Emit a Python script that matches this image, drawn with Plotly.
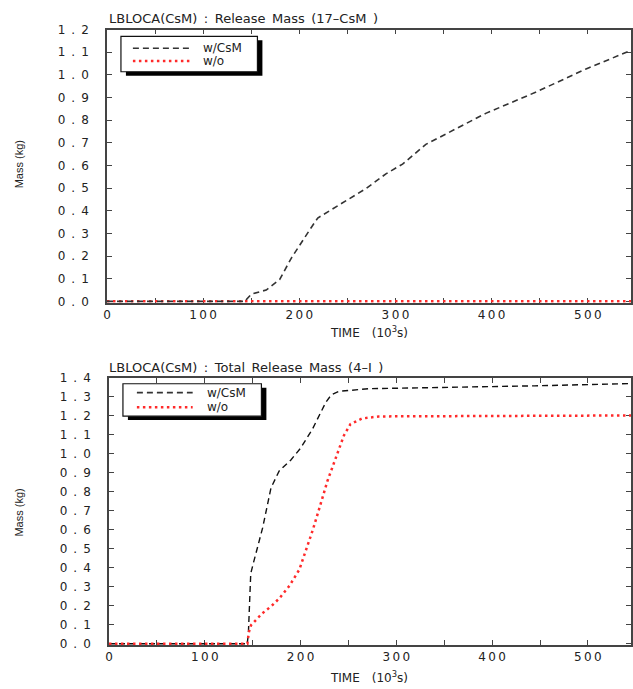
import plotly.graph_objects as go

# ---------------- data ----------------
# Top panel: Release Mass (17-CsM)
t_top_csm = [0, 144, 144.8, 150.1, 165.6, 179.5, 191.6, 202, 212.3, 219.2, 227.8,
             248.6, 269.4, 290.1, 307.4, 331.6, 393.9, 445.7, 497.6, 545]
m_top_csm = [0, 0, 0.007, 0.032, 0.05, 0.096, 0.19, 0.26, 0.325, 0.368, 0.39,
             0.447, 0.498, 0.563, 0.606, 0.693, 0.83, 0.923, 1.025, 1.108]
t_top_wo = [0, 545]
m_top_wo = [0.0, 0.0]

# Bottom panel: Total Release Mass (4-I)
t_bot_csm = [0, 144.3, 145.5, 148, 150.5, 160.4, 169.1, 177.7, 189.9, 200, 212.4,
             219.3, 226.2, 232, 240.1, 271.3, 333.7, 444.5, 545]
m_bot_csm = [0, 0, 0.05, 0.37, 0.42, 0.61, 0.82, 0.91, 0.968, 1.03, 1.13,
             1.2, 1.27, 1.31, 1.329, 1.343, 1.347, 1.358, 1.37]
t_bot_wo = [0, 144.5, 146, 148.3, 160, 170, 178, 188.4, 198.8, 205, 212.7, 220,
            228, 236.6, 245.3, 252.2, 264.2, 281.7, 400, 545]
m_bot_wo = [0, 0, 0.06, 0.098, 0.16, 0.2, 0.24, 0.305, 0.391, 0.48, 0.598, 0.72,
            0.856, 0.976, 1.097, 1.157, 1.186, 1.197, 1.2, 1.202]

x_tickvals = [0, 100, 200, 300, 400, 500]
x_ticktext = ["0", "1\u20090\u20090", "2\u20090\u20090", "3\u20090\u20090",
              "4\u20090\u20090", "5\u20090\u20090"]
x_minor_vals = [50, 150, 250, 350, 450]
y_top_vals = [0.0, 0.1, 0.2, 0.3, 0.4, 0.5, 0.6, 0.7, 0.8, 0.9, 1.0, 1.1, 1.2]
y_bot_vals = [0.0, 0.1, 0.2, 0.3, 0.4, 0.5, 0.6, 0.7, 0.8, 0.9, 1.0, 1.1, 1.2, 1.3, 1.4]

series_names = ["w/CsM", "w/o"]
titles = ["LBLOCA(CsM)\u2002:\u2002Release\u2002Mass\u2002(17\u2013CsM\u2002)",
          "LBLOCA(CsM)\u2002:\u2002Total\u2002Release\u2002Mass\u2002(4\u2013I\u2002)"]

def ylab(v):
    s = f"{v:.1f}"
    return s[0] + "\u2002.\u2002" + s[2]

W, H = 633, 689
L = 107
FONT = "DejaVu Sans"
TXT = "#222222"
AX = "#444444"

def px_x(p):
    return (p - L) / (W - L)

def px_y(p):
    return 1 - p / H

fig = go.Figure()

BLACK = "#333333"
RED = "#ff2a2a"
DASH_B = "6px,4px"
DOT_R = "2.5px,3.5px"

fig.add_trace(go.Scatter(x=t_top_wo, y=m_top_wo, mode="lines", xaxis="x", yaxis="y",
                         line=dict(color=RED, width=2.5, dash=DOT_R), showlegend=False))
fig.add_trace(go.Scatter(x=t_top_csm, y=m_top_csm, mode="lines", xaxis="x", yaxis="y",
                         line=dict(color=BLACK, width=1.6, dash=DASH_B), showlegend=False))
fig.add_trace(go.Scatter(x=t_bot_csm, y=m_bot_csm, mode="lines", xaxis="x2", yaxis="y2",
                         line=dict(color="#111111", width=1.4, dash=DASH_B), showlegend=False))
fig.add_trace(go.Scatter(x=t_bot_wo, y=m_bot_wo, mode="lines", xaxis="x2", yaxis="y2",
                         line=dict(color=RED, width=2.5, dash=DOT_R), showlegend=False))

# domains (pixel based)
top_y0_px, top_y1_px = 23, 300
bot_y0_px, bot_y1_px = 378, 649
top_off, bot_off = 0.006, 0.007
top_ppu = (top_y1_px - top_y0_px) / 1.2
bot_ppu = (bot_y1_px - bot_y0_px) / 1.4

common_x = dict(range=[0, 545], tickmode="array", tickvals=x_tickvals, ticktext=x_ticktext,
                ticks="inside", ticklen=5, tickwidth=1.2, tickcolor=AX,
                minor=dict(tickmode="array", tickvals=x_minor_vals, ticks="inside",
                           ticklen=5, tickwidth=1.2, tickcolor=AX, showgrid=False),
                showline=True, linecolor=AX, linewidth=1.6, mirror="ticks",
                showgrid=False, zeroline=False, layer="below traces",
                tickfont=dict(family=FONT, size=12, color=TXT), ticklabelstandoff=0)
common_y = dict(tickmode="array", ticks="inside", ticklen=5, tickwidth=1.2, tickcolor=AX,
                showline=True, linecolor=AX, linewidth=1.6, mirror="ticks",
                showgrid=False, zeroline=False, layer="below traces",
                tickfont=dict(family=FONT, size=12, color=TXT), ticklabelstandoff=14)

fig.update_layout(
    width=W, height=H,
    margin=dict(l=L, r=0, t=0, b=0),
    paper_bgcolor="white", plot_bgcolor="white",
    showlegend=False,
    xaxis=dict(domain=[0, 1], anchor="y", **common_x),
    yaxis=dict(domain=[px_y(top_y1_px + top_off * top_ppu), px_y(top_y0_px)], anchor="x",
               range=[-top_off, 1.2], tickvals=y_top_vals,
               ticktext=[ylab(v) for v in y_top_vals], **common_y),
    xaxis2=dict(domain=[px_x(109), 1], anchor="y2", **common_x),
    yaxis2=dict(domain=[px_y(bot_y1_px + bot_off * bot_ppu), px_y(bot_y0_px)], anchor="x2",
                range=[-bot_off, 1.4], tickvals=y_bot_vals,
                ticktext=[ylab(v) for v in y_bot_vals], **common_y),
)

ann = []
shapes = []

# titles
for title, ypx in zip(titles, [12, 367]):
    ann.append(dict(x=px_x(107), y=px_y(ypx), xref="paper", yref="paper", text=title,
                    showarrow=False, xanchor="left", yanchor="middle",
                    font=dict(family=FONT, size=13, color=TXT)))
# axis titles
for ypx in [331, 683]:
    ann.append(dict(x=px_x(370), y=px_y(ypx), xref="paper", yref="paper",
                    text="TIME\u2002\u2002(10<sup>3</sup>s)", showarrow=False,
                    xanchor="center", yanchor="middle",
                    font=dict(family=FONT, size=12, color=TXT)))
for ypx in [160, 515]:
    ann.append(dict(x=px_x(19), y=px_y(ypx), xref="paper", yref="paper",
                    text="Mass (kg)", showarrow=False, textangle=-90,
                    xanchor="center", yanchor="middle",
                    font=dict(family="Liberation Sans Narrow, Liberation Sans", size=11, color=TXT)))

# legends (box with drop shadow)
for (bx0, by0, bx1, by1, lx0, lx1, ty, tx) in [
        (121, 30, 258, 66, 133, 190, (42, 55), 201),
        (123, 384, 262, 417, 137, 193, (393, 408), 205)]:
    shapes.append(dict(type="rect", xref="paper", yref="paper",
                       x0=px_x(bx0 + 5), x1=px_x(bx1 + 5), y0=px_y(by1 + 4), y1=px_y(by0 + 4),
                       fillcolor="black", line=dict(width=0), layer="above"))
    shapes.append(dict(type="rect", xref="paper", yref="paper",
                       x0=px_x(bx0), x1=px_x(bx1), y0=px_y(by1), y1=px_y(by0),
                       fillcolor="white", line=dict(color="#111111", width=1.2), layer="above"))
    shapes.append(dict(type="line", xref="paper", yref="paper",
                       x0=px_x(lx0), x1=px_x(lx1), y0=px_y(ty[0]), y1=px_y(ty[0]),
                       line=dict(color=BLACK, width=1.6, dash=DASH_B), layer="above"))
    shapes.append(dict(type="line", xref="paper", yref="paper",
                       x0=px_x(lx0), x1=px_x(lx1), y0=px_y(ty[1]), y1=px_y(ty[1]),
                       line=dict(color=RED, width=2.5, dash=DOT_R), layer="above"))
    for name, yy in zip(series_names, ty):
        ann.append(dict(x=px_x(tx), y=px_y(yy), xref="paper", yref="paper", text=name,
                        showarrow=False, xanchor="left", yanchor="middle",
                        font=dict(family=FONT, size=12, color=TXT)))

fig.update_layout(annotations=ann, shapes=shapes)
fig.write_html(
    "out.html",
    config={"displayModeBar": False},
    post_script="document.body.style.margin='0';document.body.style.overflow='hidden';",
)
